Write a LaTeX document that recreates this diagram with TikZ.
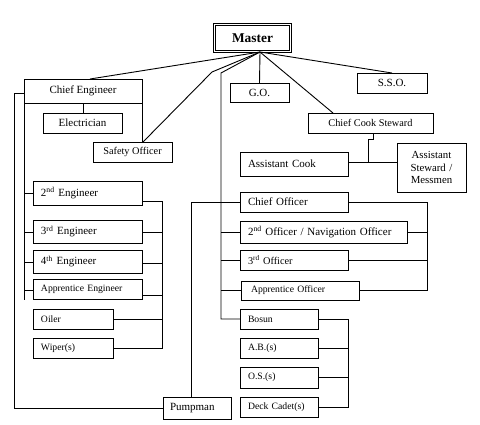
\documentclass[tikz,border=0pt]{standalone}
\usepackage{fontspec}
\setmainfont{Liberation Serif}
\begin{document}
\begin{tikzpicture}[x=1pt,y=-1pt,
  bx/.style={draw, line width=0.95pt, anchor=north west, inner sep=0pt, outer sep=0pt},
  cen/.style={align=center},
  lft/.style={align=left, inner xsep=8pt},
  ln/.style={line width=0.9pt},
  fa/.style={font=\fontsize{11}{13}\selectfont},
  fb/.style={font=\fontsize{10.3}{12}\selectfont},
  fc/.style={font=\fontsize{9.7}{11}\selectfont}]
\useasboundingbox (0,0) rectangle (480,424);
% Master
\node[draw, line width=1pt, double, double distance=1.6pt, anchor=north west, inner sep=0pt,
  minimum width=76pt, minimum height=27pt, font=\bfseries\fontsize{13.4}{15}\selectfont] (master) at (214,24) {Master};
% engine side
\node[bx,cen,fa,minimum width=118pt,minimum height=24pt] (ce) at (24,79) {Chief Engineer};
\node[bx,cen,fa,minimum width=79pt,minimum height=20pt] (el) at (43,113) {Electrician};
\node[bx,cen,fb,minimum width=79pt,minimum height=20pt] (so) at (93,142) {Safety Officer};
\node[bx,lft,fa,text width=93pt,minimum height=24pt] (e2) at (33,181) {2\textsuperscript{nd} Engineer};
\node[bx,lft,fa,text width=93pt,minimum height=23pt] (e3) at (33,220) {3\textsuperscript{rd} Engineer};
\node[bx,lft,fa,text width=93pt,minimum height=23pt] (e4) at (33,250) {4\textsuperscript{th} Engineer};
\node[bx,lft,fc,text width=93pt,minimum height=20pt] (ae) at (33,279) {Apprentice Engineer};
\node[bx,lft,fc,text width=64pt,minimum height=20pt] (oi) at (33,309) {Oiler};
\node[bx,lft,fc,text width=64pt,minimum height=20pt] (wi) at (33,338) {Wiper(s)};
\node[bx,lft,fa,inner xsep=7pt,text width=54pt,minimum height=22pt] (pm) at (163,397) {Pumpman};
% top middle/right
\node[bx,cen,fa,minimum width=59pt,minimum height=19pt] (go) at (230,83) {G.O.};
\node[bx,cen,fa,minimum width=70pt,minimum height=20pt] (sso) at (357,73) {S.S.O.};
\node[bx,cen,fb,minimum width=125pt,minimum height=20pt] (ccs) at (308,113) {Chief Cook Steward};
\node[bx,lft,fa,text width=92pt,minimum height=24pt] (ac) at (240,152) {Assistant Cook};
\node[bx,cen,fa,minimum width=69pt,minimum height=49pt,text width=64pt,font=\fontsize{10.8}{12.3}\selectfont] (as) at (397,143) {Assistant\\Steward /\\Messmen};
% deck side
\node[bx,lft,fa,text width=92pt,minimum height=20pt] (co) at (240,192) {Chief Officer};
\node[bx,lft,fa,text width=151pt,minimum height=22pt] (o2) at (240,221) {2\textsuperscript{nd} Officer / Navigation Officer};
\node[bx,lft,fb,text width=92pt,minimum height=20pt] (o3) at (240,250) {3\textsuperscript{rd} Officer};
\node[bx,lft,fc,inner xsep=10pt,text width=98pt,minimum height=19pt] (ao) at (241,281) {Apprentice Officer};
\node[bx,lft,fc,text width=62pt,minimum height=20pt] (bo) at (240,309) {Bosun};
\node[bx,lft,fc,text width=62pt,minimum height=20pt] (ab) at (240,338) {A.B.(s)};
\node[bx,lft,fc,text width=62pt,minimum height=21pt] (os) at (240,367) {O.S.(s)};
\node[bx,lft,fc,text width=62pt,minimum height=20pt] (dc) at (240,397) {Deck Cadet(s)};
% bend coordinates
\coordinate (m) at (260,52);
\coordinate (k1) at (212,72);
\coordinate (k2) at (221,73);
\coordinate (k3) at (14,93);
% connectors from master
\draw[ln] (m) -- ([xshift=66pt]ce.north west);
\draw[ln] (m) -- (k1) -- ([xshift=50pt]so.north west);
\draw[ln] (m) -- (k2) -- (k2 |- bo.west) -- (bo.west);
\draw[ln] (m) -- (go.north);
\draw[ln] (m) -- ([xshift=25pt]ccs.north west);
\draw[ln] (m) -- (sso.north);
% chief engineer
\draw[ln] (ce.south east) -- (ce.south east |- so.north);
\draw[ln] ([xshift=59pt]ce.south west) -- ([xshift=59pt]ce.south west |- el.north);
\draw[ln] (ce.south west) -- ([yshift=-11pt]ae.west -| ce.south west);
\draw[ln] ([yshift=-12pt]e2.north west -| ce.south west) -- ([yshift=-12pt]e2.north west);
\draw[ln] ([yshift=-12pt]e3.north west -| ce.south west) -- ([yshift=-12pt]e3.north west);
\draw[ln] ([yshift=-12pt]e4.north west -| ce.south west) -- ([yshift=-12pt]e4.north west);
\draw[ln] ([yshift=-11pt]ae.north west -| ce.south west) -- ([yshift=-11pt]ae.north west);
\draw[ln] (k3 -| ce.west) -- (k3) -- (k3 |- pm.west) -- (pm.west);
% engine bracket
\coordinate (eb) at (162,201);
\draw[ln] ([yshift=-20pt]e2.north east) -- (eb) -- (eb |- wi.east) -- (wi.east);
\draw[ln] ([yshift=-12pt]e3.north east) -- ([yshift=-12pt]e3.north east -| eb);
\draw[ln] ([yshift=-13pt]e4.north east) -- ([yshift=-13pt]e4.north east -| eb);
\draw[ln] ([yshift=-16pt]ae.north east) -- ([yshift=-16pt]ae.north east -| eb);
\draw[ln] (oi.east) -- (oi.east -| eb);
% pumpman to chief officer
\draw[ln] ([xshift=28pt]pm.north west) -- ([xshift=28pt]pm.north west |- co.west) -- (co.west);
% deck branches
\draw[ln] (o2.west -| k2) -- (o2.west);
\draw[ln] (o3.west -| k2) -- (o3.west);
\draw[ln] ([yshift=-9pt]ao.north west -| k2) -- ([yshift=-9pt]ao.north west);
% officer bracket
\coordinate (ob) at (427,202);
\draw[ln] (co.east) -- (ob) -- (ob |- ao.east) -- (ao.east);
\draw[ln] (o2.east) -- (o2.east -| ob);
\draw[ln] (o3.east) -- (o3.east -| ob);
% bosun bracket
\coordinate (bb) at (348,319);
\draw[ln] (bo.east) -- (bb) -- (bb |- dc.east) -- (dc.east);
\draw[ln] (ab.east) -- (ab.east -| bb);
\draw[ln] ([yshift=-10pt]os.north east) -- ([yshift=-10pt]os.north east -| bb);
% chief cook steward
\coordinate (c1) at (373,139);
\coordinate (c2) at (368,162);
\draw[ln] (c1 |- ccs.south) -- (c1) -- (c1 -| c2) -- (c2);
\draw[ln] (ac.east |- c2) -- (as.west |- c2);
\end{tikzpicture}
\end{document}
